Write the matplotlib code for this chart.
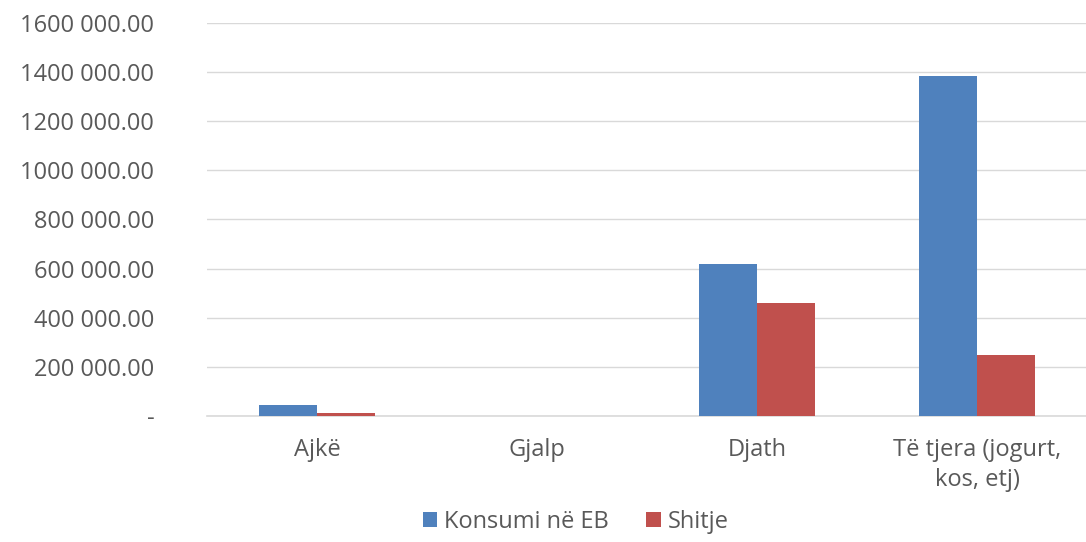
import matplotlib
matplotlib.use('Agg')
import matplotlib.pyplot as plt
import numpy as np
from matplotlib.ticker import FuncFormatter

plt.rcParams['font.family'] = ['Open Sans', 'DejaVu Sans']

categories = ['Ajkë', 'Gjalp', 'Djath', 'Të tjera (jogurt,\nkos, etj)']
konsumi = [45000, 1500, 620000, 1385000]
shitje = [12000, 800, 460000, 248000]
series_names = ['Konsumi në EB', 'Shitje']

text_color = '#595959'
fs = 17

fig = plt.figure(figsize=(10.86, 5.42), dpi=100)
ax = fig.add_axes([207 / 1086, 1 - 416 / 542, 880 / 1086, 393 / 542])

x = np.arange(len(categories))
w = 0.264
ax.bar(x - w / 2, konsumi, w, color='#4f81bd', label=series_names[0], zorder=3)
ax.bar(x + w / 2, shitje, w, color='#c0504d', label=series_names[1], zorder=3)

ax.set_xlim(-0.5, len(categories) - 0.5)
ax.set_ylim(0, 1600000)
ax.set_yticks(np.arange(0, 1600001, 200000))


def fmt(v, pos):
    if v == 0:
        return '-'
    s = f'{v:,.2f}'
    parts = s.split(',')
    # Excel style: only the last thousands group is split by a space
    head = ''.join(parts[:-1])
    return f'{head} {parts[-1]}'


ax.yaxis.set_major_formatter(FuncFormatter(fmt))
ax.set_xticks(x)
ax.set_xticklabels(categories, linespacing=1.3)

ax.grid(axis='y', color='#d9d9d9', linewidth=1, zorder=0)
for s in ['top', 'right', 'left']:
    ax.spines[s].set_visible(False)
ax.spines['bottom'].set_color('#d9d9d9')
ax.spines['bottom'].set_linewidth(1.2)
ax.tick_params(axis='both', length=0, labelsize=fs, colors=text_color)
ax.tick_params(axis='y', pad=38)
ax.tick_params(axis='x', pad=16)

leg = fig.legend(loc='lower center', bbox_to_anchor=(0.53, -0.025), ncol=2, frameon=False,
                 fontsize=fs, handlelength=0.6, handleheight=0.6, columnspacing=1.6,
                 handletextpad=0.3)
for t in leg.get_texts():
    t.set_color(text_color)

fig.savefig('out.png', dpi=100)
